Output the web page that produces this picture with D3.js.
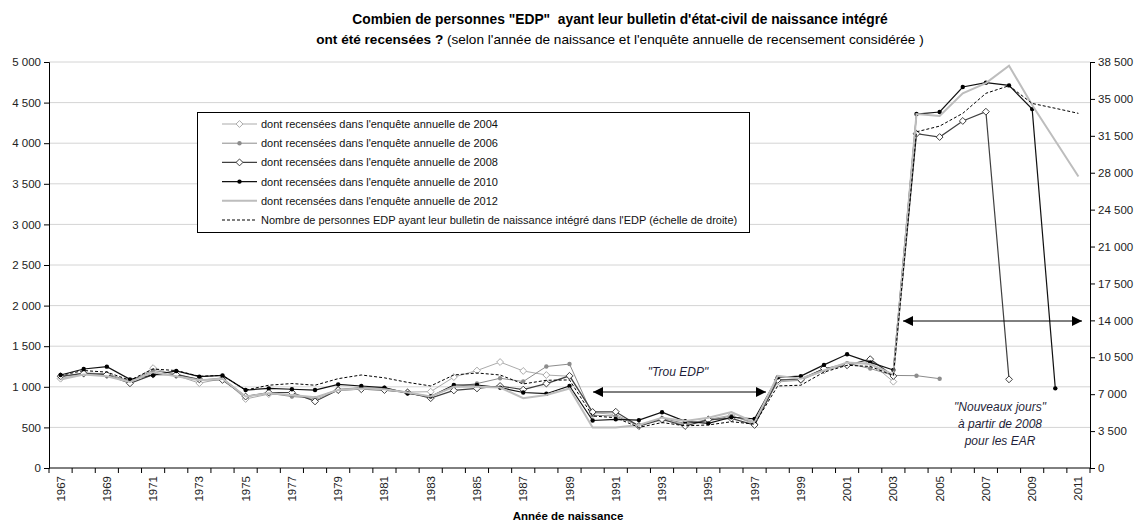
<!DOCTYPE html>
<html>
<head>
<meta charset="utf-8">
<script src="https://cdn.jsdelivr.net/npm/d3@7"></script>
<style>
body { margin: 0; background: #fff; }
text { font-family: "Liberation Sans", Arial, sans-serif; }
</style>
</head>
<body>
<div id="chart"></div>
<script>
// years of birth on the x axis
var years = d3.range(1967, 2012);

// counts by annual census survey (left scale)
var s2004 = [1100, 1160, 1140, 1060, 1230, 1140, 1045, 1100, 850, 910, 900, 840, 960, 990, 975, 935, 940, 1120, 1200, 1305, 1195, 1145, 1130, 680, 660, 520, 590, 540, 600, 650, 540, 1060, 1080, 1200, 1270, 1300, 1063];
var s2006 = [1120, 1170, 1160, 1070, 1200, 1160, 1080, 1110, 880, 920, 880, 860, 970, 990, 980, 930, 880, 1000, 1040, 1105, 1065, 1250, 1280, 650, 640, 520, 610, 550, 580, 640, 560, 1080, 1100, 1220, 1290, 1225, 1140, 1137, 1100];
var s2008 = [1130, 1165, 1150, 1043, 1150, 1150, 1092, 1085, 880, 930, 930, 820, 960, 970, 960, 930, 860, 955, 980, 1010, 965, 1040, 1135, 690, 693, 517, 600, 517, 595, 610, 530, 1085, 1090, 1225, 1265, 1340, 1133, 4117, 4076, 4274, 4388, 1092];
var s2010 = [1145, 1219, 1248, 1092, 1145, 1195, 1125, 1140, 960, 981, 970, 960, 1030, 1010, 990, 920, 880, 1022, 1022, 990, 930, 915, 1010, 585, 600, 590, 687, 575, 550, 625, 605, 1116, 1132, 1270, 1400, 1300, 1207, 4359, 4384, 4692, 4745, 4712, 4420, 981];
var s2012 = [1090, 1150, 1130, 1060, 1180, 1130, 1080, 1100, 880, 920, 900, 870, 960, 980, 970, 930, 880, 1000, 1000, 990, 860, 900, 980, 500, 500, 530, 620, 580, 620, 690, 560, 1134, 1100, 1200, 1300, 1280, 1150, 4360, 4335, 4614, 4740, 4955, 4470, 4030, 3590];

// persons with birth record in the EDP (right scale)
var edp = [8780, 9240, 9090, 8320, 9390, 9240, 8700, 8780, 7390, 7850, 8010, 7850, 8470, 8820, 8550, 8120, 7780, 8820, 9010, 8820, 7970, 8320, 8350, 4930, 4770, 3850, 4310, 4000, 4080, 4390, 4160, 7780, 7850, 9090, 9740, 9630, 8780, 31880, 32420, 33630, 35530, 36250, 34570, 34110, 33630];

var leftTicks = d3.range(0, 5001, 500);
var rightTicks = d3.range(0, 38501, 3500);

var legendLabels = [
	"dont recensées dans l'enquête annuelle de 2004",
	"dont recensées dans l'enquête annuelle de 2006",
	"dont recensées dans l'enquête annuelle de 2008",
	"dont recensées dans l'enquête annuelle de 2010",
	"dont recensées dans l'enquête annuelle de 2012",
	"Nombre de personnes EDP ayant leur bulletin de naissance intégré dans l'EDP (échelle de droite)"
];

var series = [
	{values: s2004, axis: 'left', color: '#ababab', width: 1, marker: 'diamond', mfill: '#fff', mstroke: '#ababab', dash: null},
	{values: s2006, axis: 'left', color: '#8c8c8c', width: 1, marker: 'dot', mfill: '#8c8c8c', mstroke: '#8c8c8c', dash: null},
	{values: s2008, axis: 'left', color: '#404040', width: 1.2, marker: 'diamond', mfill: '#fff', mstroke: '#404040', dash: null},
	{values: s2010, axis: 'left', color: '#111', width: 1.2, marker: 'dot', mfill: '#000', mstroke: '#000', dash: null},
	{values: s2012, axis: 'left', color: '#bdbdbd', width: 2, marker: null, dash: null},
	{values: edp, axis: 'right', color: '#000', width: 1, marker: null, dash: '3,2'}
];

var W = 1138, H = 524;
var margin = {top: 62, right: 48, bottom: 56, left: 49};
var width = W - margin.left - margin.right,
    height = H - margin.top - margin.bottom;

var fmt = d3.formatLocale({decimal: ',', thousands: ' ', grouping: [3], currency: ['', '']}).format(',d');

var svg = d3.select('#chart').append('svg')
	.attr('width', W)
	.attr('height', H);

// title
svg.append('text')
	.attr('x', 620)
	.attr('y', 24)
	.attr('text-anchor', 'middle')
	.style('font-size', '13.8px')
	.style('font-weight', 'bold')
	.style('white-space', 'pre')
	.text('Combien de personnes "EDP"  ayant leur bulletin d\'état-civil de naissance intégré');
var title2 = svg.append('text')
	.attr('x', 620)
	.attr('y', 44)
	.attr('text-anchor', 'middle')
	.style('font-size', '13.6px');
title2.append('tspan').style('font-weight', 'bold').text('ont été recensées ? ');
title2.append('tspan').text("(selon l'année de naissance et l'enquête annuelle de recensement considérée )");

var g = svg.append('g')
	.attr('transform', 'translate(' + margin.left + ',' + margin.top + ')');

var x = d3.scaleBand().domain(years).range([0, width]);
var yLeft = d3.scaleLinear().domain([0, 5000]).range([height, 0]);
var yRight = d3.scaleLinear().domain([0, 38500]).range([height, 0]);

// gridlines
g.append('g')
	.selectAll('line')
	.data(leftTicks.slice(1))
	.enter()
	.append('line')
	.attr('x1', 0)
	.attr('x2', width)
	.attr('y1', function(d) { return yLeft(d); })
	.attr('y2', function(d) { return yLeft(d); })
	.attr('stroke', '#d4d4d4')
	.attr('stroke-width', 1);

// axes
var leftAxis = g.append('g')
	.call(d3.axisLeft(yLeft).tickValues(leftTicks).tickFormat(fmt).tickSizeOuter(0).tickSize(5));
var rightAxis = g.append('g')
	.attr('transform', 'translate(' + width + ',0)')
	.call(d3.axisRight(yRight).tickValues(rightTicks).tickFormat(fmt).tickSizeOuter(0).tickSize(5));
[leftAxis, rightAxis].forEach(function(a) {
	a.selectAll('text').style('font-size', '11.5px').style('fill', '#222')
		.style('font-family', '"Liberation Sans", Arial, sans-serif')
		.style('white-space', 'pre');
	a.selectAll('line, path').attr('stroke', '#000');
});

// x axis: ticks between categories, labels on odd years
var xAxis = g.append('g').attr('transform', 'translate(0,' + height + ')');
xAxis.append('line')
	.attr('x1', 0).attr('x2', width)
	.attr('stroke', '#000');
xAxis.selectAll('.tk')
	.data(years.concat([2012]))
	.enter()
	.append('line')
	.attr('x1', function(d, i) { return i * x.step(); })
	.attr('x2', function(d, i) { return i * x.step(); })
	.attr('y1', 0)
	.attr('y2', 5)
	.attr('stroke', '#000');
xAxis.selectAll('.lbl')
	.data(years.filter(function(d) { return d % 2 == 1; }))
	.enter()
	.append('text')
	.attr('transform', function(d) {
		return 'translate(' + (x(d) + x.bandwidth() / 2 + 4) + ',8) rotate(-90)';
	})
	.attr('text-anchor', 'end')
	.style('font-size', '11.5px')
	.style('fill', '#222')
	.text(function(d) { return d; });

svg.append('text')
	.attr('x', 568)
	.attr('y', 520)
	.attr('text-anchor', 'middle')
	.style('font-size', '11.5px')
	.style('font-weight', 'bold')
	.text('Année de naissance');

function cx(i) { return x(years[i]) + x.bandwidth() / 2; }

function drawMarker(sel, s) {
	if (s.marker == 'diamond') {
		sel.append('path')
			.attr('d', d3.symbol().type(d3.symbolDiamond2).size(30))
			.attr('fill', s.mfill)
			.attr('stroke', s.mstroke)
			.attr('stroke-width', 1);
	} else if (s.marker == 'dot') {
		sel.append('circle')
			.attr('r', 2.2)
			.attr('fill', s.mfill);
	}
}

series.forEach(function(s) {
	var yS = s.axis == 'left' ? yLeft : yRight;
	var line = d3.line()
		.x(function(d, i) { return cx(i); })
		.y(function(d) { return yS(d); });
	g.append('path')
		.datum(s.values)
		.attr('d', line)
		.attr('fill', 'none')
		.attr('stroke', s.color)
		.attr('stroke-width', s.width)
		.attr('stroke-dasharray', s.dash);
	if (s.marker) {
		var m = g.selectAll(null)
			.data(s.values)
			.enter()
			.append('g')
			.attr('transform', function(d, i) {
				return 'translate(' + cx(i) + ',' + yS(d) + ')';
			});
		drawMarker(m, s);
	}
});

// legend
var legend = svg.append('g');
legend.append('rect')
	.attr('x', 197.5)
	.attr('y', 112.5)
	.attr('width', 552)
	.attr('height', 120)
	.attr('fill', '#fff')
	.attr('stroke', '#000');
var items = legend.selectAll('.item')
	.data(series)
	.enter()
	.append('g')
	.attr('transform', function(d, i) {
		return 'translate(0,' + (124 + i * 19.2) + ')';
	});
items.append('line')
	.attr('x1', 222)
	.attr('x2', 257)
	.attr('stroke', function(d) { return d.color; })
	.attr('stroke-width', function(d) { return d.width; })
	.attr('stroke-dasharray', function(d) { return d.dash; });
items.filter(function(d) { return d.marker; })
	.append('g')
	.attr('transform', 'translate(239.5,0)')
	.each(function(d) { drawMarker(d3.select(this), d); });
items.append('text')
	.attr('x', 261)
	.attr('y', 4)
	.style('font-size', '11px')
	.style('fill', '#111')
	.text(function(d, i) { return legendLabels[i]; });

// annotations
var defs = svg.append('defs');
defs.append('marker')
	.attr('id', 'head')
	.attr('viewBox', '0 0 10 10')
	.attr('refX', 10)
	.attr('refY', 5)
	.attr('markerWidth', 10)
	.attr('markerHeight', 10)
	.attr('markerUnits', 'userSpaceOnUse')
	.attr('orient', 'auto-start-reverse')
	.append('path')
	.attr('d', 'M0,0 L10,5 L0,10 Z')
	.attr('fill', '#000');

function arrow(x1, x2, yv) {
	svg.append('line')
		.attr('x1', x1).attr('x2', x2)
		.attr('y1', yv).attr('y2', yv)
		.attr('stroke', '#000')
		.attr('stroke-width', 1)
		.attr('marker-start', 'url(#head)')
		.attr('marker-end', 'url(#head)');
}
arrow(593, 766, 392);
arrow(903, 1082, 321);

svg.append('text')
	.attr('x', 678)
	.attr('y', 376)
	.attr('text-anchor', 'middle')
	.style('font-size', '12px')
	.style('font-style', 'italic')
	.style('fill', '#1f1f3a')
	.text('"Trou EDP"');

var nj = ['"Nouveaux jours"', 'à partir de 2008', 'pour les EAR'];
svg.selectAll('.nj')
	.data(nj)
	.enter()
	.append('text')
	.attr('x', 1000)
	.attr('y', function(d, i) { return 411 + i * 17; })
	.attr('text-anchor', 'middle')
	.style('font-size', '12px')
	.style('font-style', 'italic')
	.style('fill', '#1f1f3a')
	.text(function(d) { return d; });
</script>
</body>
</html>
